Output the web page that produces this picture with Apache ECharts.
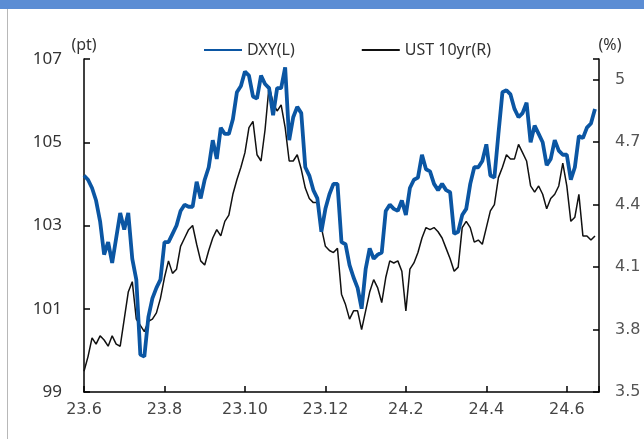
<!DOCTYPE html>
<html>
<head>
<meta charset="utf-8">
<script src="https://cdn.jsdelivr.net/npm/echarts@6/dist/echarts.min.js"></script>
<style>
html, body { margin: 0; padding: 0; background: #fff; }
#chart { width: 644px; height: 439px; }
</style>
</head>
<body>
<div id="chart"></div>
<script>
// one point every 0.1 month, starting 2023-06
var step = 0.1;
var xLabels = ['23.6', '23.8', '23.10', '23.12', '24.2', '24.4', '24.6'];
var leftTicks = [99, 107, 2];
var rightTicks = [3.5, 5.1, 0.3];

var dxy = [
    104.2, 104.1, 103.9, 103.6, 103.1, 102.3, 102.6, 102.1, 102.7, 103.3,
    102.9, 103.3, 102.2, 101.7, 99.9, 99.85, 100.8, 101.25, 101.5, 101.7,
    102.6, 102.6, 102.8, 103.0, 103.35, 103.5, 103.45, 103.45, 104.05, 103.65,
    104.1, 104.4, 105.05, 104.6, 105.35, 105.2, 105.2, 105.55, 106.2, 106.35,
    106.7, 106.6, 106.1, 106.05, 106.6, 106.4, 106.3, 105.65, 106.3, 106.3,
    106.8, 105.05, 105.6, 105.85, 105.7, 104.4, 104.2, 103.85, 103.65, 102.85,
    103.4, 103.75, 104.0, 104.0, 102.6, 102.55, 102.05, 101.75, 101.5, 101.0,
    101.95, 102.45, 102.2, 102.3, 102.35, 103.35, 103.5, 103.4, 103.35, 103.6,
    103.25, 103.9, 104.1, 104.15, 104.7, 104.35, 104.3, 104.0, 103.85, 104.0,
    103.85, 103.8, 102.8, 102.85, 103.25, 103.4, 104.0, 104.4, 104.4, 104.55,
    104.95, 104.2, 104.15, 105.2, 106.2, 106.25, 106.15, 105.8, 105.6, 105.7,
    105.95, 105.0, 105.4, 105.2, 105.0, 104.45, 104.6, 105.05, 104.8, 104.7,
    104.7, 104.1, 104.4, 105.15, 105.1, 105.35, 105.45, 105.8
];

var ust = [
    3.60, 3.67, 3.76, 3.73, 3.77, 3.75, 3.72, 3.77, 3.73, 3.72,
    3.85, 3.98, 4.03, 3.85, 3.82, 3.79, 3.84, 3.85, 3.88, 3.95,
    4.05, 4.13, 4.07, 4.09, 4.20, 4.24, 4.28, 4.30, 4.21, 4.13,
    4.11, 4.18, 4.24, 4.28, 4.25, 4.32, 4.35, 4.45, 4.52, 4.58,
    4.65, 4.77, 4.80, 4.64, 4.61, 4.76, 4.97, 4.89, 4.85, 4.88,
    4.77, 4.61, 4.61, 4.64, 4.57, 4.48, 4.43, 4.41, 4.41, 4.29,
    4.20, 4.18, 4.17, 4.19, 3.97, 3.92, 3.85, 3.89, 3.89, 3.80,
    3.89, 3.98, 4.04, 4.00, 3.93, 4.05, 4.13, 4.12, 4.13, 4.08,
    3.89, 4.09, 4.12, 4.17, 4.24, 4.29, 4.28, 4.29, 4.27, 4.24,
    4.19, 4.14, 4.08, 4.10, 4.29, 4.32, 4.29, 4.22, 4.23, 4.21,
    4.29, 4.37, 4.40, 4.53, 4.58, 4.64, 4.62, 4.62, 4.69, 4.65,
    4.61, 4.49, 4.46, 4.49, 4.45, 4.38, 4.43, 4.45, 4.49, 4.60,
    4.49, 4.32, 4.34, 4.45, 4.25, 4.25, 4.23, 4.25
];

function toPoints(arr) {
    return arr.map(function (v, i) { return [+(i * step).toFixed(2), v]; });
}

var myChart = echarts.init(document.getElementById('chart'));

myChart.setOption({
    animation: false,
    graphic: [
        {type: 'rect', left: 0, top: 0, shape: {width: 644, height: 9}, style: {fill: '#5b8dd4'}},
        {type: 'line', shape: {x1: 7.5, y1: 9, x2: 7.5, y2: 439}, style: {stroke: '#b8b8b8', lineWidth: 1}}
    ],
    legend: {
        data: ['DXY(L)', 'UST 10yr(R)'],
        left: 198,
        top: 37,
        itemWidth: 38,
        itemHeight: 14,
        itemGap: 66,
        itemStyle: {opacity: 0},
        textStyle: {fontFamily: 'Noto Sans', fontSize: 16, color: '#333'}
    },
    grid: {left: 84, right: 45, top: 59, bottom: 47},
    xAxis: {
        type: 'value',
        min: 0,
        max: 12.8,
        interval: 2,
        splitLine: {show: false},
        axisLine: {lineStyle: {color: '#000', width: 1.5}},
        axisTick: {inside: true, length: 6, lineStyle: {color: '#000', width: 1.5}},
        axisLabel: {
            margin: 10,
            fontFamily: 'DejaVu Sans',
            fontSize: 16,
            color: '#444',
            formatter: function (v) {
                var k = v / 2;
                if (Math.abs(k - Math.round(k)) > 1e-6) return '';
                return xLabels[Math.round(k)] || '';
            }
        }
    },
    yAxis: [{
        type: 'value',
        min: leftTicks[0],
        max: leftTicks[1],
        interval: leftTicks[2],
        name: '(pt)',
        nameLocation: 'end',
        nameGap: 6,
        nameTextStyle: {fontFamily: 'Noto Sans', fontSize: 16, color: '#333'},
        splitLine: {show: false},
        axisLine: {show: true, lineStyle: {color: '#000', width: 1.5}},
        axisTick: {show: true, inside: true, length: 6, lineStyle: {color: '#000', width: 1.5}},
        axisLabel: {margin: 22, fontFamily: 'Noto Sans', fontSize: 17, color: '#333'}
    }, {
        type: 'value',
        position: 'right',
        min: rightTicks[0],
        max: rightTicks[1],
        interval: rightTicks[2],
        name: '(%)',
        nameLocation: 'end',
        nameGap: 6,
        nameTextStyle: {fontFamily: 'Noto Sans', fontSize: 16, color: '#333', padding: [0, 0, 0, 22]},
        splitLine: {show: false},
        axisLine: {show: true, lineStyle: {color: '#000', width: 1.5}},
        axisTick: {show: true, inside: true, length: 6, lineStyle: {color: '#000', width: 1.5}},
        axisLabel: {
            margin: 16,
            fontFamily: 'DejaVu Sans',
            fontSize: 16,
            color: '#555',
            formatter: function (v) {
                if (v > 5.05) return '';
                return String(Math.round(v * 10) / 10);
            }
        }
    }],
    series: [{
        name: 'DXY(L)',
        type: 'line',
        yAxisIndex: 0,
        symbol: 'none',
        z: 3,
        lineStyle: {color: '#0b56a3', width: 3.8},
        itemStyle: {color: '#0b56a3'},
        data: toPoints(dxy)
    }, {
        name: 'UST 10yr(R)',
        type: 'line',
        yAxisIndex: 1,
        symbol: 'none',
        z: 2,
        lineStyle: {color: '#111', width: 1.5},
        itemStyle: {color: '#111'},
        data: toPoints(ust)
    }]
});
</script>
</body>
</html>
